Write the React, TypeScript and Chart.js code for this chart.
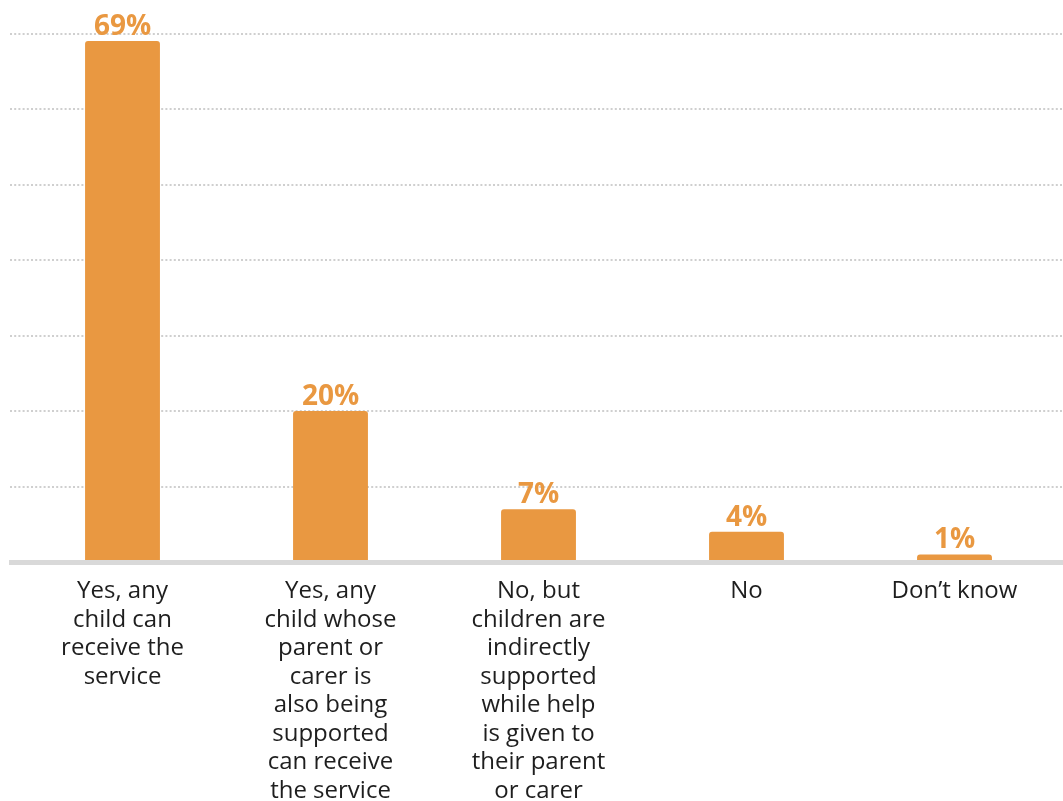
import React, { useEffect, useRef } from "react";
import { Chart, registerables } from "chart.js";

Chart.register(...registerables);

const CATEGORIES: string[][] = [
  ["Yes, any", "child can", "receive the", "service"],
  ["Yes, any", "child whose", "parent or", "carer is", "also being", "supported", "can receive", "the service"],
  ["No, but", "children are", "indirectly", "supported", "while help", "is given to", "their parent", "or carer"],
  ["No"],
  ["Don\u2019t know"],
];
const VALUES: number[] = [69, 20, 7, 4, 1];
const GRID_VALUES: number[] = [10, 20, 30, 40, 50, 60, 70];

const ORANGE = "#E99841";
const FONT = "'Open Sans', 'Noto Sans', sans-serif";

const gridPlugin = {
  id: "dottedGrid",
  beforeDatasetsDraw(chart: any) {
    const { ctx, scales } = chart;
    const y = scales.y;
    ctx.save();
    ctx.strokeStyle = "#cfcfcf";
    ctx.lineWidth = 2;
    ctx.setLineDash([2, 2.2]);
    GRID_VALUES.forEach((v) => {
      const py = Math.round(y.getPixelForValue(v));
      ctx.beginPath();
      ctx.moveTo(10, py);
      ctx.lineTo(chart.width, py);
      ctx.stroke();
    });
    ctx.restore();
  },
  afterDatasetsDraw(chart: any) {
    const { ctx, scales } = chart;
    const y = scales.y;
    const py0 = y.getPixelForValue(0);
    ctx.save();
    ctx.fillStyle = "#d9d9d9";
    ctx.fillRect(9, py0 - 2, chart.width - 9, 5);
    const meta = chart.getDatasetMeta(0);
    ctx.fillStyle = ORANGE;
    ctx.font = `bold 28px ${FONT}`;
    ctx.textAlign = "center";
    ctx.textBaseline = "alphabetic";
    meta.data.forEach((el: any, i: number) => {
      ctx.fillText(`${VALUES[i]}%`, el.x, el.y - 6);
    });
    ctx.restore();
  },
};

export default function App() {
  const ref = useRef<HTMLCanvasElement | null>(null);
  useEffect(() => {
    if (!ref.current) return;
    const chart = new Chart(ref.current, {
      type: "bar",
      data: {
        labels: CATEGORIES,
        datasets: [
          {
            data: VALUES,
            backgroundColor: ORANGE,
            borderRadius: 3,
            borderSkipped: "start",
            categoryPercentage: 1,
            barPercentage: 0.36,
          },
        ],
      },
      options: {
        animation: false,
        responsive: false,
        devicePixelRatio: 1,
        layout: { padding: { top: 33.5, left: 18.5, right: 4.5, bottom: 0 } },
        plugins: {
          legend: { display: false },
          tooltip: { enabled: false },
        },
        scales: {
          y: {
            display: false,
            min: 0,
            max: 70,
          },
          x: {
            grid: { display: false, drawTicks: false },
            border: { display: false },
            ticks: {
              autoSkip: false,
              maxRotation: 0,
              minRotation: 0,
              padding: 15,
              color: "#1e1e1e",
              font: { family: FONT, size: 24, lineHeight: 1.19 },
            },
            afterFit: (scale: any) => {
              scale.height = 239;
            },
          },
        },
      },
      plugins: [gridPlugin],
    });
    return () => chart.destroy();
  }, []);
  return (
    <div style={{ position: "absolute", left: 0, top: 0, width: 1063, height: 801, background: "#fff" }}>
      <canvas ref={ref} width={1063} height={801} style={{ display: "block" }} />
    </div>
  );
}
